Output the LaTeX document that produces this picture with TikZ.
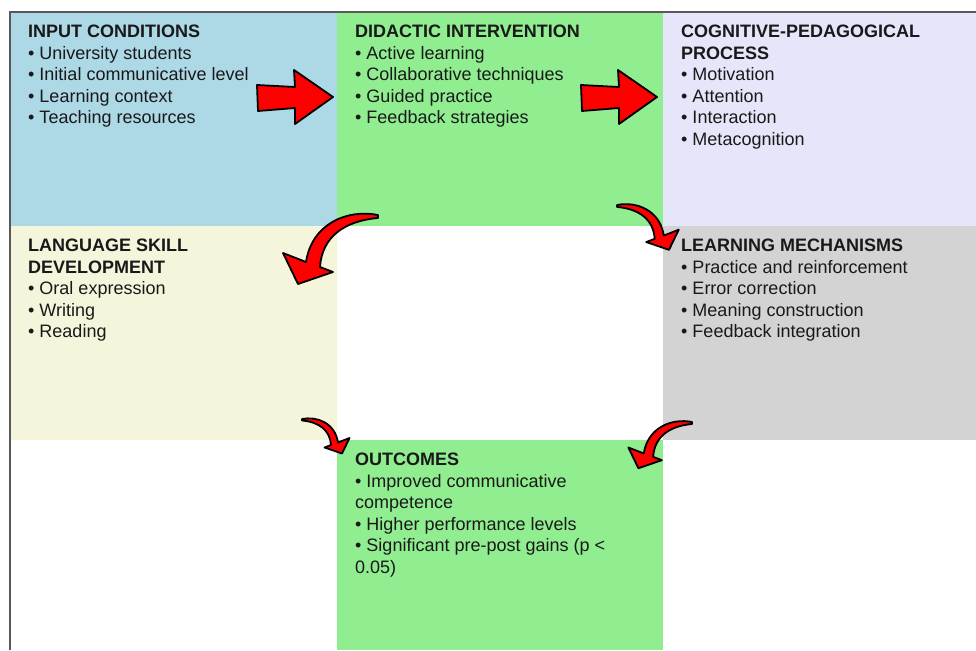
\documentclass[tikz,border=0pt]{standalone}
\usepackage{fontspec}
\setmainfont{Liberation Sans}

\definecolor{inputblue}{HTML}{ADD8E6}
\definecolor{didacticgreen}{HTML}{90EE90}
\definecolor{processlavender}{HTML}{E6E6FA}
\definecolor{skillbeige}{HTML}{F5F5DC}
\definecolor{mechgray}{HTML}{D3D3D3}

\tikzset{
    cell/.style={anchor=north west, inner sep=0pt, minimum width=#1, minimum height=214},
    cell/.default=327,
    txt/.style={anchor=north west, inner sep=0pt, align=left, text=black!90,
        font=\fontsize{18}{21.5}\selectfont},
    blockarrow/.style={fill=red, draw=black, line width=1.8pt, line join=round},
    pics/straight arrow/.style={code={
        \draw[blockarrow] (0,0) -- (-39,-27) -- (-38,-10) -- (-76,-12) -- (-75,14)
            -- (-38,11) -- (-38,27) -- cycle;
    }},
    pics/bend arrow/.style={code={
        \draw[blockarrow] (0,0) .. controls (-30,-6) and (-66,8) .. (-72,47)
            -- (-95,38) -- (-80,69) -- (-45,57) -- (-58,52)
            .. controls (-56,22) and (-34,6) .. (0,3) -- cycle;
    }}
}

\begin{document}
\begin{tikzpicture}[x=1pt,y=-1pt]
                        \useasboundingbox (0,0) rectangle (976,650);

                        % Cells
                        \node[cell, fill=inputblue] (input) at (10,12) {};
                        \node[cell=326, fill=didacticgreen] (didactic) at (337,12) {};
                        \node[cell=313, fill=processlavender] (process) at (663,12) {};
                        \node[cell, fill=skillbeige] (skill) at (10,226) {};
                        \node[cell=313, fill=mechgray] (mechanisms) at (663,226) {};
                        \node[cell=326, minimum height=210, fill=didacticgreen] (outcomes) at (337,440) {};

                        % Frame
                        \draw[black!65, line width=2.2pt] (10,650) -- (10,12) -- (976,12);

                        % Texts
                        \node[txt] (input-txt) at (28,25) {\textbf{INPUT CONDITIONS}\\
                            • University students\\ • Initial communicative level\\
                            • Learning context\\ • Teaching resources};
                        \node[txt] (didactic-txt) at (355,25) {\textbf{DIDACTIC INTERVENTION}\\
                            • Active learning\\ • Collaborative techniques\\
                            • Guided practice\\ • Feedback strategies};
                        \node[txt] (process-txt) at (681,25) {\textbf{COGNITIVE-PEDAGOGICAL}\\
                            \textbf{PROCESS}\\ • Motivation\\ • Attention\\
                            • Interaction\\ • Metacognition};
                        \node[txt] (skill-txt) at (28,239) {\textbf{LANGUAGE SKILL}\\
                            \textbf{DEVELOPMENT}\\ • Oral expression\\ • Writing\\ • Reading};
                        \node[txt] (mechanisms-txt) at (681,239) {\textbf{LEARNING MECHANISMS}\\
                            • Practice and reinforcement\\ • Error correction\\
                            • Meaning construction\\ • Feedback integration};
                        \node[txt] (outcomes-txt) at (355,453) {\textbf{OUTCOMES}\\
                            • Improved communicative\\ competence\\
                            • Higher performance levels\\
                            • Significant pre-post gains (p <\\ 0.05)};

                        % Arrows
                        \pic at (333,97) {straight arrow};
                        \pic at (657,97) {straight arrow};
                        \pic at (378,215) {bend arrow};
                        \pic[xscale=-0.65, yscale=0.65] at (617,205) {bend arrow};
                        \pic[xscale=-0.5, yscale=0.5] at (302,419) {bend arrow};
                        \pic[scale=0.67] at (692,422) {bend arrow};
                    \end{tikzpicture}
\end{document}
